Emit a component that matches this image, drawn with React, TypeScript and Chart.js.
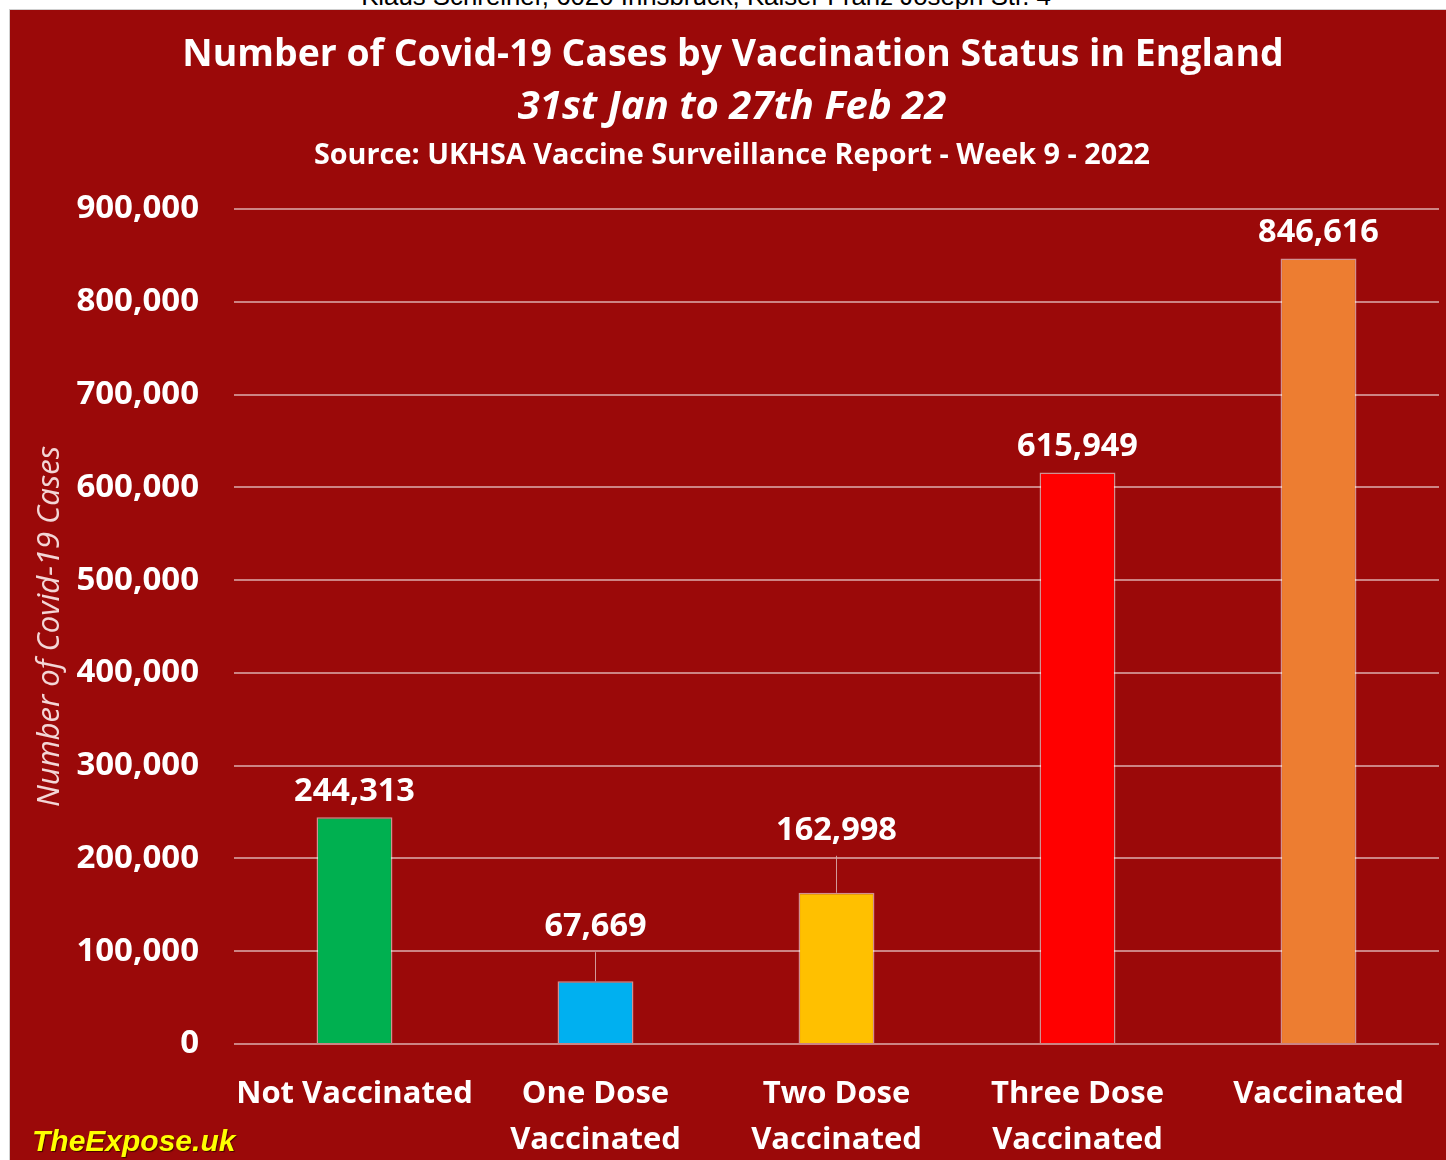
import React, { useEffect, useRef } from "react";
import { Chart, registerables } from "chart.js";

Chart.register(...registerables);

const categories: (string | string[])[] = [
  "Not Vaccinated",
  ["One Dose", "Vaccinated"],
  ["Two Dose", "Vaccinated"],
  ["Three Dose", "Vaccinated"],
  "Vaccinated",
];
const cases: number[] = [244313, 67669, 162998, 615949, 846616];
const barColors: string[] = ["#00B050", "#00B0F0", "#FFC000", "#FF0000", "#ED7D31"];
const yTicks: number[] = [0, 100000, 200000, 300000, 400000, 500000, 600000, 700000, 800000, 900000];

const titleText = "Number of Covid-19 Cases by Vaccination Status in England";
const subtitleText = "31st Jan to 27th Feb 22";
const sourceText = "Source: UKHSA Vaccine Surveillance Report - Week 9 - 2022";
const yAxisTitle = "Number of Covid-19 Cases";
const brandText = "TheExpose.uk";
const topCutText = "Klaus Schreiner, 6020 Innsbruck, Kaiser Franz Joseph Str. 4";

// extra lift (px) of value labels that sit on leader lines
const labelLift: number[] = [0, 28, 36, 0, 0];

const PANEL_BG = "#9B0909";
const FONT = "'Open Sans', 'Noto Sans', sans-serif";

const valueLabelPlugin = {
  id: "valueLabels",
  afterDatasetsDraw(chart: any) {
    const ctx = chart.ctx;
    const meta = chart.getDatasetMeta(0);
    ctx.save();
    ctx.font = `bold 32.5px ${FONT}`;
    ctx.textAlign = "center";
    ctx.textBaseline = "middle";
    meta.data.forEach((bar: any, i: number) => {
      const v = chart.data.datasets[0].data[i] as number;
      const lift = labelLift[i] || 0;
      const cy = bar.y - 26 - lift;
      if (lift > 0) {
        ctx.strokeStyle = "rgba(215,170,170,0.9)";
        ctx.lineWidth = 1;
        ctx.beginPath();
        ctx.moveTo(bar.x, cy + 25);
        ctx.lineTo(bar.x, bar.y);
        ctx.stroke();
      }
      ctx.fillStyle = "#FFFFFF";
      ctx.fillText(v.toLocaleString("en-US"), bar.x, cy);
    });
    ctx.restore();
  },
};

function ChartCanvas() {
  const ref = useRef<HTMLCanvasElement | null>(null);
  useEffect(() => {
    if (!ref.current) return;
    const chart = new Chart(ref.current, {
      type: "bar",
      data: {
        labels: categories,
        datasets: [
          {
            data: cases,
            backgroundColor: barColors,
            borderColor: "rgba(255,255,255,0.55)",
            borderWidth: 1.5,
            categoryPercentage: 1,
            barPercentage: 0.315,
          },
        ],
      },
      options: {
        animation: false,
        responsive: false,
        maintainAspectRatio: false,
        layout: { padding: { top: 199, right: 8, left: 0, bottom: 0 } },
        plugins: {
          legend: { display: false },
          tooltip: { enabled: false },
          title: { display: false },
        },
        scales: {
          x: {
            grid: { display: false, drawTicks: false },
            border: { display: false },
            ticks: {
              color: "#FFFFFF",
              font: { family: FONT, size: 31, weight: "bold", lineHeight: 1.48 },
              padding: 27,
              maxRotation: 0,
              autoSkip: false,
            },
            afterFit(scale: any) {
              scale.height = 117;
            },
          },
          y: {
            min: 0,
            max: 900000,
            afterBuildTicks(scale: any) {
              scale.ticks = yTicks.map((v) => ({ value: v }));
            },
            grid: { color: "rgba(255,255,255,0.5)", lineWidth: 2, drawTicks: false },
            border: { display: false },
            ticks: {
              color: "#FFFFFF",
              font: { family: FONT, size: 33, weight: "bold" },
              padding: 35,
              callback: (v: any) => Number(v).toLocaleString("en-US"),
            },
            title: {
              display: true,
              text: yAxisTitle,
              color: "#F3D6D6",
              font: { family: FONT, size: 31, style: "italic", lineHeight: 1.2 },
              padding: { top: 22, bottom: 0 },
            },
            afterFit(scale: any) {
              scale.width = 224;
            },
          },
        },
      },
      plugins: [valueLabelPlugin],
    } as any);
    return () => chart.destroy();
  }, []);
  return (
    <canvas
      ref={ref}
      width={1437}
      height={1151}
      style={{ position: "absolute", left: 0, top: 0, width: 1437, height: 1151 }}
    />
  );
}

export default function App() {
  return (
    <div
      style={{
        position: "absolute",
        left: 0,
        top: 0,
        width: 1446,
        height: 1160,
        background: "#FFFFFF",
        overflow: "hidden",
        fontFamily: FONT,
      }}
    >
      <div
        style={{
          position: "absolute",
          left: 706,
          top: -18,
          transform: "translateX(-50%)",
          whiteSpace: "nowrap",
          fontSize: 25.8,
          color: "#000",
          fontFamily: "'Liberation Sans', Arial, sans-serif",
        }}
      >
        {topCutText}
      </div>
      <div
        style={{
          position: "absolute",
          left: 9,
          top: 9,
          width: 1437,
          height: 1151,
          background: PANEL_BG,
          borderTop: "1px solid #cfcfcf",
          borderLeft: "1px solid #cfcfcf",
          boxSizing: "border-box",
        }}
      >
        <ChartCanvas />
        <div
          style={{
            position: "absolute",
            left: 723,
            top: 41,
            transform: "translate(-50%, -50%)",
            whiteSpace: "nowrap",
            color: "#fff",
            fontWeight: 700,
            fontSize: 37.4,
          }}
        >
          {titleText}
        </div>
        <div
          style={{
            position: "absolute",
            left: 722,
            top: 93,
            transform: "translate(-50%, -50%)",
            whiteSpace: "nowrap",
            color: "#fff",
            fontWeight: 700,
            fontStyle: "italic",
            fontSize: 40,
          }}
        >
          {subtitleText}
        </div>
        <div
          style={{
            position: "absolute",
            left: 722,
            top: 142,
            transform: "translate(-50%, -50%)",
            whiteSpace: "nowrap",
            color: "#fff",
            fontWeight: 700,
            fontSize: 28.8,
          }}
        >
          {sourceText}
        </div>
        <div
          style={{
            position: "absolute",
            left: 22,
            top: 1131,
            transform: "translateY(-50%)",
            whiteSpace: "nowrap",
            color: "#FFFF00",
            fontWeight: 700,
            fontStyle: "italic",
            fontSize: 30,
            fontFamily: "'Liberation Sans', Arial, sans-serif",
            textShadow: "1px 1px 1px #4a0000",
          }}
        >
          {brandText}
        </div>
      </div>
    </div>
  );
}
